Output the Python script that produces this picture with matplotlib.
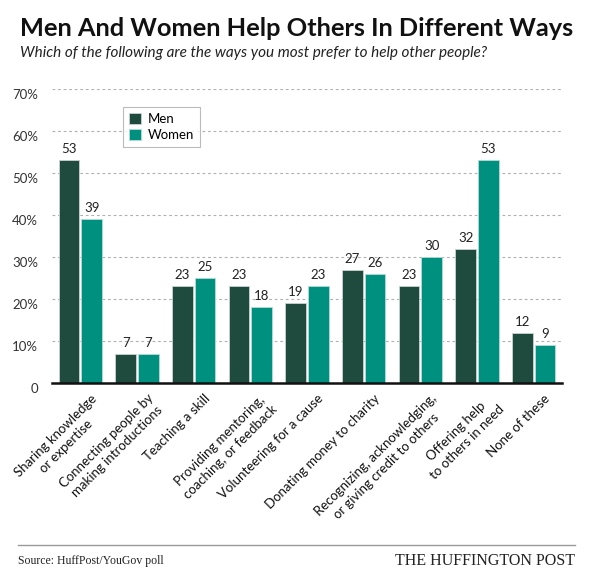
import numpy as np
import matplotlib.pyplot as plt
from matplotlib.lines import Line2D
import matplotlib.transforms as mtransforms

categories = ["Sharing knowledge\nor expertise",
              "Connecting people by\nmaking introductions",
              "Teaching a skill",
              "Providing mentoring,\ncoaching, or feedback",
              "Volunteering for a cause",
              "Donating money to charity",
              "Recognizing, acknowledging,\nor giving credit to others",
              "Offering help\nto others in need",
              "None of these"]
men = [53, 7, 23, 23, 19, 27, 23, 32, 12]
women = [39, 7, 25, 18, 23, 26, 30, 53, 9]
yticks = [0, 10, 20, 30, 40, 50, 60, 70]
ytick_labels = ["0", "10%", "20%", "30%", "40%", "50%", "60%", "70%"]

men_color = "#1e4b3d"
women_color = "#00907f"
font = "Lato"

fig = plt.figure(figsize=(5.93, 5.84), dpi=100)
ax = fig.add_axes([52/593, 1-383/584, 510/593, 294/584])

x = np.arange(len(categories))
w = 0.37
ax.bar(x - 0.2, men, w, color=men_color, edgecolor="#c9d3cf", linewidth=0.6, label="Men", zorder=3)
ax.bar(x + 0.2, women, w, color=women_color, edgecolor="#b5dcd6", linewidth=0.6, label="Women", zorder=3)

for i in range(len(categories)):
    ax.text(x[i] - 0.2, men[i] + 1.2, str(men[i]), ha="center", va="bottom",
            fontsize=9.5, color="#222222", family=font)
    ax.text(x[i] + 0.2, women[i] + 1.2, str(women[i]), ha="center", va="bottom",
            fontsize=9.5, color="#222222", family=font)

ax.set_xlim(-0.5, len(categories) - 0.5)
ax.set_ylim(0, 70)
ax.set_yticks(yticks)
ax.set_yticklabels(ytick_labels, family=font, fontsize=9.5, color="#333333")
ax.yaxis.grid(True, linestyle=(0, (2.5, 2.5)), color="#b0b0b0", linewidth=0.8, zorder=0)
ax.tick_params(axis="y", length=0, pad=10)
# tick labels sit a little below their gridlines
for t in ax.get_yticklabels():
    t.set_transform(t.get_transform() + mtransforms.ScaledTranslation(0, -5/100, fig.dpi_scale_trans))
ax.set_xticks([])

# category labels, rotated, anchored a little right of each group centre
offset = mtransforms.ScaledTranslation(10/100, -9/100, fig.dpi_scale_trans)
trans = ax.get_xaxis_transform() + offset
for i, lab in enumerate(categories):
    ax.text(x[i], 0, lab, transform=trans, rotation=45, ha="right", va="top",
            rotation_mode="anchor", multialignment="center", linespacing=1.3,
            family=font, fontsize=9.5, color="#111111")

for s in ["top", "right", "left"]:
    ax.spines[s].set_visible(False)
ax.spines["bottom"].set_linewidth(1.8)
ax.spines["bottom"].set_color("#111111")
ax.spines["bottom"].set_zorder(4)

leg = ax.legend(loc="upper left", bbox_to_anchor=(71/510, 1 - 18/294), borderaxespad=0,
                prop={"family": font, "size": 9.5},
                frameon=True, fancybox=False, edgecolor="#aaaaaa", handlelength=0.9, handleheight=0.9,
                handletextpad=0.5, borderpad=0.45, labelspacing=0.3)
leg.get_frame().set_linewidth(0.8)

fig.text(20/593, 1-28/584, "Men And Women Help Others In Different Ways", family=font,
         fontweight="bold", fontsize=18.3, va="center", ha="left", color="#111111")
fig.text(20/593, 1-53/584, "Which of the following are the ways you most prefer to help other people?",
         family=font, style="italic", fontsize=11, va="center", ha="left", color="#222222")

fig.add_artist(Line2D([18/593, 575/593], [1-545/584, 1-545/584], color="#999999", linewidth=1))
fig.text(18/593, 1-561/584, "Source: HuffPost/YouGov poll", family="Liberation Serif",
         fontsize=8.5, va="center", ha="left", color="#222222")
fig.text(575/593, 1-561/584, "THE HUFFINGTON POST", family="Liberation Serif",
         fontsize=11.5, va="center", ha="right", color="#222222")

fig.savefig("out.png", dpi=100, facecolor="white")
